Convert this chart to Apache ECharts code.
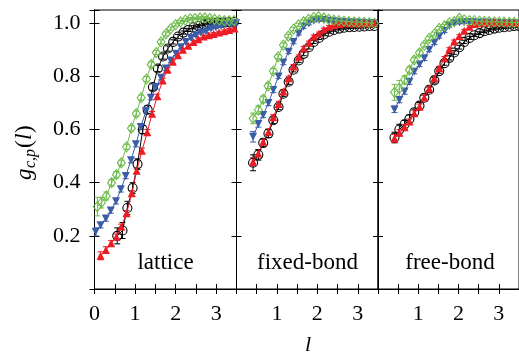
<!DOCTYPE html>
<html><head><meta charset="utf-8">
<script src="https://cdn.jsdelivr.net/npm/echarts@6/dist/echarts.min.js"></script>
<style>html,body{margin:0;padding:0;background:#fff}#c{width:519px;height:355px}</style>
</head><body><div id="c"></div>
<script>
// ---- data: [l, g, error] ----
const panelNames = ['lattice', 'fixed-bond', 'free-bond'];
const xTicks = [0, 1, 2, 3];
const yTicks = [0.2, 0.4, 0.6, 0.8, 1.0];

const latticeBlack = [[0.56,0.20,0.03],[0.69,0.22,0.03],[0.81,0.305,0.025],[0.94,0.38,0.02],[1.06,0.47,0.02],[1.19,0.60,0.015],[1.31,0.675,0.015],[1.44,0.76,0.012],[1.56,0.83,0.012],[1.69,0.875,0.01],[1.81,0.905,0.01],[1.94,0.93,0.008],[2.06,0.95,0.008],[2.19,0.965,0.006],[2.31,0.975,0.006],[2.44,0.985,0.006],[2.56,0.99,0.005],[2.69,0.995,0.005],[2.81,1.0,0.005],[2.94,1.0,0.005],[3.06,1.003,0.005],[3.19,1.003,0.005],[3.31,1.004,0.005],[3.44,1.005,0.005]];
const latticeRed = [[0.15,0.125,0.015],[0.28,0.147,0.012],[0.41,0.172,0.01],[0.54,0.197,0.01],[0.66,0.234,0.01],[0.79,0.285,0.01],[0.92,0.36,0.01],[1.04,0.445,0.01],[1.17,0.52,0.01],[1.30,0.59,0.01],[1.42,0.66,0.008],[1.55,0.725,0.008],[1.68,0.785,0.008],[1.80,0.825,0.008],[1.93,0.855,0.007],[2.06,0.88,0.007],[2.18,0.90,0.006],[2.31,0.915,0.006],[2.44,0.93,0.006],[2.56,0.94,0.005],[2.69,0.95,0.005],[2.82,0.955,0.005],[2.94,0.96,0.005],[3.07,0.965,0.005],[3.20,0.97,0.005],[3.32,0.975,0.005],[3.45,0.98,0.005]];
const latticeBlue = [[0.03,0.215,0.015],[0.15,0.24,0.01],[0.28,0.265,0.01],[0.40,0.295,0.01],[0.53,0.33,0.01],[0.65,0.375,0.01],[0.77,0.425,0.01],[0.90,0.485,0.01],[1.02,0.545,0.01],[1.14,0.61,0.01],[1.27,0.67,0.008],[1.39,0.72,0.008],[1.51,0.76,0.008],[1.64,0.795,0.008],[1.76,0.83,0.007],[1.88,0.86,0.007],[2.01,0.885,0.006],[2.13,0.91,0.006],[2.25,0.93,0.006],[2.38,0.945,0.005],[2.50,0.955,0.005],[2.62,0.965,0.005],[2.75,0.97,0.005],[2.87,0.98,0.005],[2.99,0.985,0.005],[3.12,0.99,0.005],[3.24,0.995,0.005],[3.36,0.995,0.005],[3.49,1.0,0.005]];
const latticeGreen = [[0.07,0.31,0.035],[0.17,0.325,0.02],[0.29,0.35,0.015],[0.42,0.40,0.012],[0.54,0.43,0.012],[0.66,0.475,0.01],[0.79,0.535,0.01],[0.91,0.605,0.01],[1.03,0.66,0.01],[1.15,0.72,0.01],[1.28,0.79,0.01],[1.40,0.845,0.01],[1.52,0.89,0.008],[1.64,0.93,0.008],[1.76,0.96,0.008],[1.88,0.98,0.006],[2.00,0.995,0.006],[2.12,1.005,0.005],[2.24,1.012,0.005],[2.36,1.017,0.005],[2.48,1.018,0.005],[2.60,1.02,0.005],[2.72,1.02,0.005],[2.84,1.018,0.005],[2.96,1.015,0.005],[3.08,1.012,0.005],[3.20,1.01,0.005],[3.32,1.01,0.005],[3.44,1.01,0.005]];

const fixedBlack = [[0.41,0.475,0.03],[0.54,0.505,0.02],[0.66,0.55,0.015],[0.79,0.585,0.015],[0.91,0.635,0.012],[1.04,0.685,0.01],[1.16,0.735,0.01],[1.29,0.78,0.01],[1.41,0.825,0.008],[1.54,0.86,0.008],[1.66,0.885,0.007],[1.79,0.91,0.007],[1.91,0.93,0.006],[2.04,0.945,0.006],[2.16,0.958,0.005],[2.29,0.968,0.005],[2.41,0.975,0.005],[2.54,0.98,0.005],[2.66,0.983,0.005],[2.79,0.985,0.005],[2.91,0.986,0.005],[3.04,0.987,0.005],[3.16,0.988,0.005],[3.29,0.99,0.005],[3.41,0.99,0.005]];
const fixedRed = [[0.41,0.479,0.015],[0.54,0.51,0.012],[0.66,0.554,0.01],[0.79,0.592,0.01],[0.91,0.646,0.01],[1.04,0.696,0.01],[1.16,0.743,0.008],[1.29,0.793,0.008],[1.41,0.837,0.008],[1.54,0.874,0.007],[1.66,0.906,0.007],[1.79,0.927,0.006],[1.91,0.95,0.006],[2.04,0.962,0.005],[2.16,0.977,0.005],[2.29,0.987,0.005],[2.41,0.993,0.005],[2.54,0.997,0.005],[2.66,1.0,0.005],[2.79,1.0,0.005],[2.91,1.0,0.005],[3.04,1.0,0.005],[3.16,1.0,0.005],[3.29,1.0,0.005],[3.41,1.0,0.005]];
const fixedBlue = [[0.41,0.573,0.02],[0.54,0.621,0.012],[0.66,0.655,0.01],[0.79,0.70,0.01],[0.91,0.749,0.01],[1.04,0.80,0.008],[1.16,0.852,0.008],[1.29,0.893,0.007],[1.41,0.93,0.007],[1.54,0.962,0.006],[1.66,0.987,0.006],[1.79,0.999,0.005],[1.91,1.01,0.005],[2.04,1.012,0.005],[2.16,1.012,0.005],[2.29,1.01,0.005],[2.41,1.008,0.005],[2.54,1.006,0.005],[2.66,1.005,0.005],[2.79,1.004,0.005],[2.91,1.003,0.005],[3.04,1.002,0.005],[3.16,1.001,0.005],[3.29,1.0,0.005],[3.41,1.0,0.005]];
const fixedGreen = [[0.41,0.642,0.02],[0.54,0.674,0.015],[0.66,0.714,0.012],[0.78,0.764,0.01],[0.91,0.82,0.01],[1.03,0.874,0.008],[1.16,0.918,0.008],[1.28,0.952,0.007],[1.41,0.978,0.007],[1.53,0.994,0.006],[1.66,1.006,0.006],[1.78,1.015,0.005],[1.91,1.022,0.005],[2.03,1.025,0.005],[2.16,1.02,0.005],[2.28,1.015,0.005],[2.41,1.012,0.005],[2.53,1.01,0.005],[2.66,1.008,0.005],[2.78,1.006,0.005],[2.91,1.005,0.005],[3.03,1.004,0.005],[3.16,1.003,0.005],[3.28,1.002,0.005],[3.41,1.0,0.005]];

const freeBlack = [[0.41,0.57,0.02],[0.53,0.60,0.02],[0.66,0.62,0.015],[0.78,0.64,0.015],[0.90,0.665,0.012],[1.03,0.69,0.012],[1.15,0.72,0.01],[1.27,0.75,0.01],[1.40,0.785,0.01],[1.52,0.82,0.008],[1.65,0.85,0.008],[1.77,0.87,0.008],[1.89,0.89,0.007],[2.02,0.91,0.007],[2.14,0.93,0.006],[2.27,0.945,0.006],[2.39,0.955,0.005],[2.52,0.963,0.005],[2.64,0.97,0.005],[2.76,0.975,0.005],[2.89,0.98,0.005],[3.01,0.983,0.005],[3.13,0.985,0.005],[3.26,0.987,0.005],[3.38,0.99,0.005],[3.50,0.99,0.005]];
const freeRed = [[0.41,0.567,0.015],[0.53,0.588,0.012],[0.66,0.609,0.01],[0.78,0.63,0.01],[0.90,0.661,0.01],[1.03,0.686,0.01],[1.15,0.721,0.008],[1.27,0.755,0.008],[1.40,0.793,0.008],[1.52,0.831,0.007],[1.65,0.868,0.007],[1.77,0.902,0.006],[1.89,0.931,0.006],[2.02,0.952,0.005],[2.14,0.972,0.005],[2.27,0.987,0.005],[2.39,0.997,0.005],[2.52,1.0,0.005],[2.64,1.002,0.005],[2.76,1.003,0.005],[2.89,1.003,0.005],[3.01,1.003,0.005],[3.13,1.002,0.005],[3.26,1.002,0.005],[3.38,1.001,0.005],[3.50,1.0,0.005]];
const freeBlue = [[0.41,0.676,0.012],[0.53,0.711,0.01],[0.66,0.743,0.01],[0.78,0.78,0.01],[0.90,0.818,0.008],[1.03,0.845,0.008],[1.15,0.868,0.008],[1.27,0.90,0.007],[1.40,0.927,0.007],[1.52,0.95,0.006],[1.65,0.971,0.006],[1.77,0.99,0.005],[1.89,1.0,0.005],[2.02,1.003,0.005],[2.14,1.004,0.005],[2.27,1.004,0.005],[2.39,1.004,0.005],[2.52,1.003,0.005],[2.64,1.003,0.005],[2.76,1.002,0.005],[2.89,1.002,0.005],[3.01,1.001,0.005],[3.13,1.001,0.005],[3.26,1.0,0.005],[3.38,1.0,0.005],[3.50,1.0,0.005]];
const freeGreen = [[0.41,0.74,0.03],[0.53,0.755,0.03],[0.66,0.787,0.015],[0.78,0.824,0.012],[0.90,0.862,0.01],[1.03,0.889,0.01],[1.15,0.918,0.008],[1.27,0.943,0.008],[1.40,0.96,0.007],[1.52,0.981,0.007],[1.65,0.99,0.006],[1.77,1.002,0.006],[1.89,1.006,0.005],[2.02,1.019,0.005],[2.14,1.013,0.005],[2.27,1.01,0.005],[2.39,1.01,0.005],[2.52,1.008,0.005],[2.64,1.007,0.005],[2.76,1.006,0.005],[2.89,1.005,0.005],[3.01,1.005,0.005],[3.13,1.004,0.005],[3.26,1.003,0.005],[3.38,1.003,0.005],[3.50,1.002,0.005]];

const panels = [
  [latticeBlack, latticeBlue, latticeRed, latticeGreen],
  [fixedBlack, fixedBlue, fixedRed, fixedGreen],
  [freeBlack, freeBlue, freeRed, freeGreen]
];

// ---- styles ----
const FONT = '"Liberation Serif", "DejaVu Serif", serif';
const styles = [
  {color:'#000000', symbol:'circle', size:9, rotate:0, open:true},
  {color:'#3b5ca8', symbol:'triangle', size:8, rotate:180, open:false},
  {color:'#ec1c24', symbol:'triangle', size:8, rotate:0, open:false},
  {color:'#6dbb4a', symbol:'diamond', size:[8,10], rotate:0, open:true}
];
const lefts = [94.5, 236.5, 378];
const widths = [142, 141.5, 141.5];
const TOP = 10, HEIGHT = 279;

const grids = [], xAxes = [], yAxes = [], series = [];

for (let p = 0; p < 3; p++) {
  grids.push({left: lefts[p], top: TOP, width: widths[p], height: HEIGHT, show: true, borderColor: '#000', borderWidth: 1, containLabel: false});
  const axLine = {show: true, lineStyle: {color: '#000', width: 1}};
  const xTick = {show: true, inside: true, length: 5, lineStyle: {color: '#000', width: 1}};
  xAxes.push({type: 'value', gridIndex: p, position: 'bottom', min: 0, max: 3.5, interval: 0.5,
    axisLine: axLine, axisTick: xTick, splitLine: {show: false},
    axisLabel: {show: true, margin: 14, color: '#000', fontFamily: FONT, fontSize: 22,
      showMinLabel: true, showMaxLabel: false,
      formatter: v => (xTicks.some(t => Math.abs(t - v) < 1e-6) && (p === 0 || v > 0)) ? String(Math.round(v)) : ''}});
  xAxes.push({type: 'value', gridIndex: p, position: 'top', min: 0, max: 3.5, interval: 0.5,
    axisLine: axLine, axisTick: xTick, splitLine: {show: false}, axisLabel: {show: false}});
  yAxes.push({type: 'value', gridIndex: p, position: 'left', min: 0, max: 1.05, interval: 0.2,
    axisLine: axLine, axisTick: xTick, splitLine: {show: false},
    axisLabel: {show: p === 0, margin: 14, color: '#000', fontFamily: FONT, fontSize: 22,
      formatter: v => yTicks.some(t => Math.abs(t - v) < 1e-6) ? v.toFixed(1) : ''}});
  yAxes.push({type: 'value', gridIndex: p, position: 'right', min: 0, max: 1.05, interval: 0.2,
    axisLine: axLine, axisTick: xTick, splitLine: {show: false}, axisLabel: {show: false}});

  panels[p].forEach((arr, s) => {
    const st = styles[s];
    series.push({
      type: 'custom', xAxisIndex: 2*p, yAxisIndex: 2*p, clip: true, z: 2,
      data: arr, encode: {x: 0, y: 1},
      renderItem: (params, api) => {
        const x = api.value(0), y = api.value(1), e = api.value(2);
        const a = api.coord([x, y + e]), b = api.coord([x, y - e]);
        const cw = 3, sty = {stroke: st.color, lineWidth: 1};
        return {type: 'group', children: [
          {type: 'line', shape: {x1: a[0], y1: a[1], x2: b[0], y2: b[1]}, style: sty},
          {type: 'line', shape: {x1: a[0]-cw, y1: a[1], x2: a[0]+cw, y2: a[1]}, style: sty},
          {type: 'line', shape: {x1: b[0]-cw, y1: b[1], x2: b[0]+cw, y2: b[1]}, style: sty}
        ]};
      }
    });
    series.push({
      type: 'line', xAxisIndex: 2*p, yAxisIndex: 2*p, z: 3 + s,
      data: arr.map(d => [d[0], d[1]]),
      symbol: st.symbol, symbolSize: st.size, symbolRotate: st.rotate,
      lineStyle: {color: st.color, width: 1},
      itemStyle: st.open ? {color: 'rgba(255,255,255,0)', borderColor: st.color, borderWidth: 1.1}
                         : {color: st.color, borderWidth: 0},
      animation: false, silent: true
    });
  });
}

const panelLabelPos = [[165.5, 263], [307.5, 263], [450, 263]];
const graphic = panelNames.map((n, i) => ({
  type: 'text', x: panelLabelPos[i][0], y: panelLabelPos[i][1],
  style: {text: n, fontFamily: FONT, fontSize: 23, fill: '#000', align: 'center', verticalAlign: 'middle'}
}));
graphic.push({type: 'text', x: 308, y: 345, style: {text: 'l', fontFamily: FONT, fontStyle: 'italic', fontSize: 22, fill: '#000', align: 'center', verticalAlign: 'middle'}});
graphic.push({type: 'group', x: 25, y: 151, rotation: Math.PI/2, children: [
  {type: 'text', x: -29, y: 0, style: {text: 'g', fontFamily: FONT, fontStyle: 'italic', fontSize: 23, fill: '#000', align: 'left', verticalAlign: 'middle'}},
  {type: 'text', x: -17, y: 6, style: {text: 'c,p', fontFamily: FONT, fontStyle: 'italic', fontSize: 16, fill: '#000', align: 'left', verticalAlign: 'middle'}},
  {type: 'text', x: 3, y: 0, style: {text: '(', fontFamily: FONT, fontSize: 23, fill: '#000', align: 'left', verticalAlign: 'middle'}},
  {type: 'text', x: 11, y: 0, style: {text: 'l', fontFamily: FONT, fontStyle: 'italic', fontSize: 23, fill: '#000', align: 'left', verticalAlign: 'middle'}},
  {type: 'text', x: 18, y: 0, style: {text: ')', fontFamily: FONT, fontSize: 23, fill: '#000', align: 'left', verticalAlign: 'middle'}}
]});

const chart = echarts.init(document.getElementById('c'), null, {renderer: 'canvas'});
chart.setOption({
  animation: false, backgroundColor: '#fff',
  grid: grids, xAxis: xAxes, yAxis: yAxes, series: series, graphic: graphic
});
</script></body></html>
